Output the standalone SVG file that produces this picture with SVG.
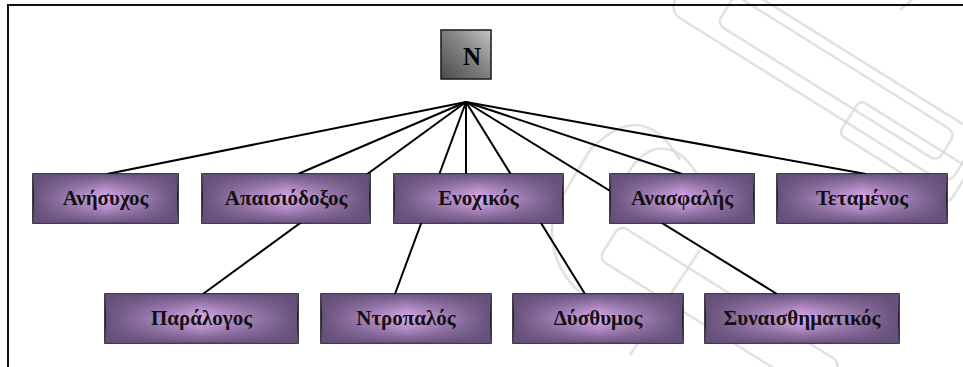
<svg xmlns="http://www.w3.org/2000/svg" width="963" height="367" viewBox="0 0 963 367">
<defs>
<linearGradient id="ph" x1="0" y1="0" x2="1" y2="0">
<stop offset="0" stop-color="#65507a"/>
<stop offset="0.25" stop-color="#a07fb4"/>
<stop offset="0.5" stop-color="#dcaaec"/>
<stop offset="0.75" stop-color="#a07fb4"/>
<stop offset="1" stop-color="#65507a"/>
</linearGradient>
<linearGradient id="pv" x1="0" y1="0" x2="0" y2="1">
<stop offset="0" stop-color="#65507a" stop-opacity="0.95"/>
<stop offset="0.3" stop-color="#65507a" stop-opacity="0.3"/>
<stop offset="0.5" stop-color="#65507a" stop-opacity="0"/>
<stop offset="0.7" stop-color="#65507a" stop-opacity="0.3"/>
<stop offset="1" stop-color="#65507a" stop-opacity="0.95"/>
</linearGradient>
<linearGradient id="gray" x1="0" y1="1" x2="1" y2="0">
<stop offset="0" stop-color="#4a4a4a"/>
<stop offset="0.6" stop-color="#8a8a8a"/>
<stop offset="1" stop-color="#c4c4c4"/>
</linearGradient>
</defs>
<style>
.bx{stroke:#111;stroke-width:1.6}
.ov{fill:url(#pv)}
.lb{font-family:"Liberation Serif","Times New Roman",serif;font-weight:bold;font-size:21px;fill:#111;text-anchor:middle}
.cn{stroke:#000;stroke-width:2;fill:none}
.wm{fill:none;stroke:#dadada;stroke-width:2.5;opacity:0.8}
</style>
<rect x="0" y="0" width="963" height="367" fill="#fff"/>
<g id="watermark">
<rect class="wm" x="700" y="-40" width="330" height="60" rx="14" transform="rotate(32 700 -40)"/>
<rect class="wm" x="735" y="-5" width="260" height="34" rx="8" transform="rotate(32 735 -5)"/>
<path class="wm" d="M680 160 C650 110 620 120 590 150 L560 200 C540 240 560 280 590 300"/>
<path class="wm" d="M700 180 C680 140 650 140 630 170 L610 210"/>
<rect class="wm" x="860" y="100" width="130" height="40" rx="6" transform="rotate(32 860 100)"/>
<rect class="wm" x="620" y="225" width="260" height="40" rx="8" transform="rotate(32 620 225)"/>
<path class="wm" d="M630 355 L700 250"/>
<path class="wm" d="M900 10 L935 -20"/>
</g>
<g id="frame">
<path d="M8 367 V5 H963" stroke="#111" stroke-width="2" fill="none"/>
</g>
<g id="connectors">
<line class="cn" x1="466" y1="102" x2="107" y2="174"/>
<line class="cn" x1="466" y1="102" x2="298" y2="174"/>
<line class="cn" x1="466" y1="102" x2="203" y2="294"/>
<line class="cn" x1="466" y1="102" x2="395" y2="294"/>
<line class="cn" x1="466" y1="102" x2="466" y2="174"/>
<line class="cn" x1="466" y1="102" x2="585" y2="294"/>
<line class="cn" x1="466" y1="102" x2="682" y2="174"/>
<line class="cn" x1="466" y1="102" x2="777" y2="294"/>
<line class="cn" x1="466" y1="102" x2="866" y2="174"/>
</g>
<g id="n-root">
<rect x="441" y="30" width="50" height="49" fill="url(#gray)" stroke="#222" stroke-width="1.6"/>
<text x="472" y="65" font-family="'Liberation Serif','Times New Roman',serif" font-weight="bold" font-size="25" text-anchor="middle" fill="#000">N</text>
</g>
<g id="anisychos">
<rect class="bx" x="33" y="174" width="145" height="49" fill="url(#ph)"/><rect class="ov" x="33" y="174" width="145" height="49"/>
<text class="lb" x="105.5" y="205">Ανήσυχος</text>
</g>
<g id="apaisiodoxos">
<rect class="bx" x="202" y="174" width="168" height="49" fill="url(#ph)"/><rect class="ov" x="202" y="174" width="168" height="49"/>
<text class="lb" x="286" y="205">Απαισιόδοξος</text>
</g>
<g id="enochikos">
<rect class="bx" x="394" y="174" width="169" height="49" fill="url(#ph)"/><rect class="ov" x="394" y="174" width="169" height="49"/>
<text class="lb" x="478.5" y="205">Ενοχικός</text>
</g>
<g id="anasfalis">
<rect class="bx" x="610" y="174" width="144" height="49" fill="url(#ph)"/><rect class="ov" x="610" y="174" width="144" height="49"/>
<text class="lb" x="682" y="205">Ανασφαλής</text>
</g>
<g id="tetamenos">
<rect class="bx" x="777" y="174" width="170" height="49" fill="url(#ph)"/><rect class="ov" x="777" y="174" width="170" height="49"/>
<text class="lb" x="862" y="205">Τεταμένος</text>
</g>
<g id="paralogos">
<rect class="bx" x="105" y="294" width="193" height="49" fill="url(#ph)"/><rect class="ov" x="105" y="294" width="193" height="49"/>
<text class="lb" x="201.5" y="325">Παράλογος</text>
</g>
<g id="ntropalos">
<rect class="bx" x="321" y="294" width="170" height="49" fill="url(#ph)"/><rect class="ov" x="321" y="294" width="170" height="49"/>
<text class="lb" x="406" y="325">Ντροπαλός</text>
</g>
<g id="dysthymos">
<rect class="bx" x="513" y="294" width="170" height="49" fill="url(#ph)"/><rect class="ov" x="513" y="294" width="170" height="49"/>
<text class="lb" x="598" y="325">Δύσθυμος</text>
</g>
<g id="synaisthimatikos">
<rect class="bx" x="705" y="294" width="194" height="49" fill="url(#ph)"/><rect class="ov" x="705" y="294" width="194" height="49"/>
<text class="lb" x="802" y="325">Συναισθηματικός</text>
</g>
</svg>
